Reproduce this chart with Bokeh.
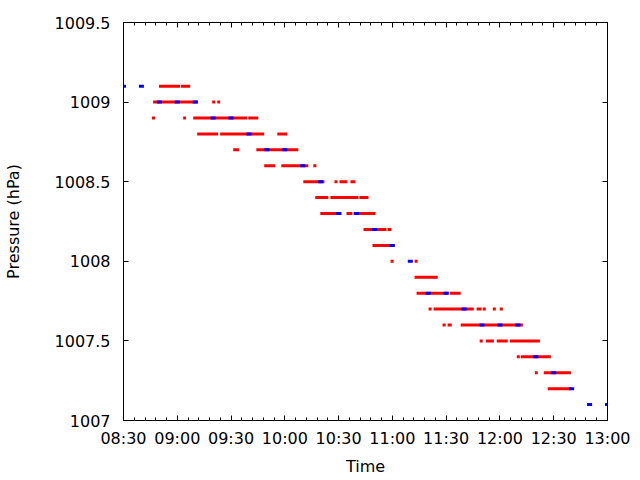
from bokeh.plotting import figure
from bokeh.models import ColumnDataSource, FixedTicker, LinearAxis, Range1d
from bokeh.embed import file_html
from bokeh.resources import INLINE

# ---- data -------------------------------------------------------------
# x axis ticks (minutes after 08:30) and their labels
x_tick_minutes = [0, 30, 60, 90, 120, 150, 180, 210, 240, 270]
x_tick_labels = ["08:30", "09:00", "09:30", "10:00", "10:30",
                 "11:00", "11:30", "12:00", "12:30", "13:00"]
x_minor_minutes = [m for m in range(0, 271, 6)]

y_ticks = [1007.0, 1007.5, 1008.0, 1008.5, 1009.0, 1009.5]
y_tick_labels = ["1007", "1007.5", "1008", "1008.5", "1009", "1009.5"]

# blue series: readings every 10 minutes
blue_times = ["08:30", "08:40", "08:50", "09:00", "09:10", "09:20", "09:30",
              "09:40", "09:50", "10:00", "10:10", "10:20", "10:30", "10:40",
              "10:50", "11:00", "11:10", "11:20", "11:30", "11:40", "11:50",
              "12:00", "12:10", "12:20", "12:30", "12:40", "12:50", "13:00"]
blue_pressure = [1009.1, 1009.1, 1009.0, 1009.0, 1009.0, 1008.9, 1008.9,
                 1008.8, 1008.7, 1008.7, 1008.6, 1008.5, 1008.3, 1008.3,
                 1008.2, 1008.1, 1008.0, 1007.8, 1007.8, 1007.7, 1007.6,
                 1007.6, 1007.6, 1007.4, 1007.3, 1007.2, 1007.1, 1007.1]

# red series: runs of dense readings (start / end minute after 08:30, level)
red_start = [19.8, 32.1,
             16.5, 49.5, 52.3,
             15.9, 33.3, 38.9, 69.6,
             41.1, 53.9, 85.8,
             61.2, 74.1,
             78.5, 88.0, 105.9,
             100.3, 117.7, 120.5, 126.6,
             107.0, 115.4, 131.6,
             109.8, 124.4, 128.3,
             133.9, 147.3,
             138.9,
             149.0, 162.4,
             162.4,
             163.5, 182.0,
             170.2, 173.0, 197.0, 200.4, 206.0, 209.9,
             178.0, 180.8, 188.1,
             198.7, 202.1, 208.2, 215.5,
             219.4, 221.6,
             229.5, 234.5,
             236.7]
red_end = [31.6, 37.2,
           41.6, 51.2, 53.9,
           17.6, 34.9, 69.0, 75.2,
           52.8, 78.5, 91.4,
           64.6, 97.5,
           84.7, 103.1, 107.6,
           112.1, 119.4, 124.9, 129.4,
           114.3, 131.1, 136.7,
           121.6, 127.7, 140.6,
           146.7, 149.5,
           150.7,
           150.7, 164.1,
           175.3,
           181.4, 188.1,
           171.9, 195.4, 199.8, 202.1, 207.7, 211.6,
           179.7, 183.1, 222.8,
           200.4, 206.6, 214.4, 232.3,
           221.1, 238.4,
           231.1, 249.6,
           249.6]
red_pressure = [1009.1, 1009.1,
                1009.0, 1009.0, 1009.0,
                1008.9, 1008.9, 1008.9, 1008.9,
                1008.8, 1008.8, 1008.8,
                1008.7, 1008.7,
                1008.6, 1008.6, 1008.6,
                1008.5, 1008.5, 1008.5, 1008.5,
                1008.4, 1008.4, 1008.4,
                1008.3, 1008.3, 1008.3,
                1008.2, 1008.2,
                1008.1,
                1008.0, 1008.0,
                1007.9,
                1007.8, 1007.8,
                1007.7, 1007.7, 1007.7, 1007.7, 1007.7, 1007.7,
                1007.6, 1007.6, 1007.6,
                1007.5, 1007.5, 1007.5, 1007.5,
                1007.4, 1007.4,
                1007.3, 1007.3,
                1007.2]


def to_min(hhmm):
    h, m = hhmm.split(":")
    return int(h) * 60 + int(m) - (8 * 60 + 30)


blue_x = [to_min(t) for t in blue_times]

FONT = "DejaVu Sans"

p = figure(width=640, height=480, output_backend="svg", toolbar_location=None,
           x_range=Range1d(0, 270), y_range=Range1d(1007, 1009.5),
           min_border_left=123, min_border_right=33,
           min_border_top=22, min_border_bottom=60,
           x_axis_label="Time", y_axis_label="Pressure (hPa)")
p.background_fill_color = "white"
p.border_fill_color = "white"
p.outline_line_color = "black"
p.outline_line_width = 1
p.grid.visible = False

red_src = ColumnDataSource(dict(x0=red_start, x1=red_end, y=red_pressure))
p.segment(x0="x0", y0="y", x1="x1", y1="y", source=red_src,
          line_color="#ff0000", line_width=3, line_cap="butt")

blue_src = ColumnDataSource(dict(x=blue_x, y=blue_pressure))
p.rect(x="x", y="y", width=5, height=3, width_units="screen",
       height_units="screen", source=blue_src,
       fill_color="#0000ff", line_color=None)

xt = FixedTicker(ticks=x_tick_minutes, minor_ticks=x_minor_minutes)
yt = FixedTicker(ticks=y_ticks, minor_ticks=[])


def style(ax):
    ax.axis_line_color = "black"
    ax.axis_line_width = 1
    ax.major_tick_in = 5
    ax.major_tick_out = 0
    ax.minor_tick_in = 3
    ax.minor_tick_out = 0
    ax.major_tick_line_color = "black"
    ax.minor_tick_line_color = "black"
    ax.major_label_text_font = FONT
    ax.major_label_text_font_size = "16px"
    ax.major_label_text_color = "black"
    ax.axis_label_text_font = FONT
    ax.axis_label_text_font_size = "16px"
    ax.axis_label_text_font_style = "normal"
    ax.axis_label_text_color = "black"


def mirror(ax, ticks):
    style(ax)
    ax.major_label_overrides = {t: "" for t in ticks}
    ax.major_label_text_color = None
    ax.major_label_standoff = 0


xa = p.xaxis[0]
xa.ticker = xt
xa.major_label_overrides = dict(zip(x_tick_minutes, x_tick_labels))
style(xa)
xa.major_label_standoff = 8
xa.axis_label_standoff = 6

ya = p.yaxis[0]
ya.ticker = yt
ya.major_label_overrides = dict(zip(y_ticks, y_tick_labels))
style(ya)
ya.major_label_standoff = 13
ya.axis_label_standoff = 29

top = LinearAxis(ticker=xt)
mirror(top, x_tick_minutes)
p.add_layout(top, "above")

right = LinearAxis(ticker=yt)
mirror(right, y_ticks)
p.add_layout(right, "right")

open("out.html", "w").write(file_html(p, INLINE))
